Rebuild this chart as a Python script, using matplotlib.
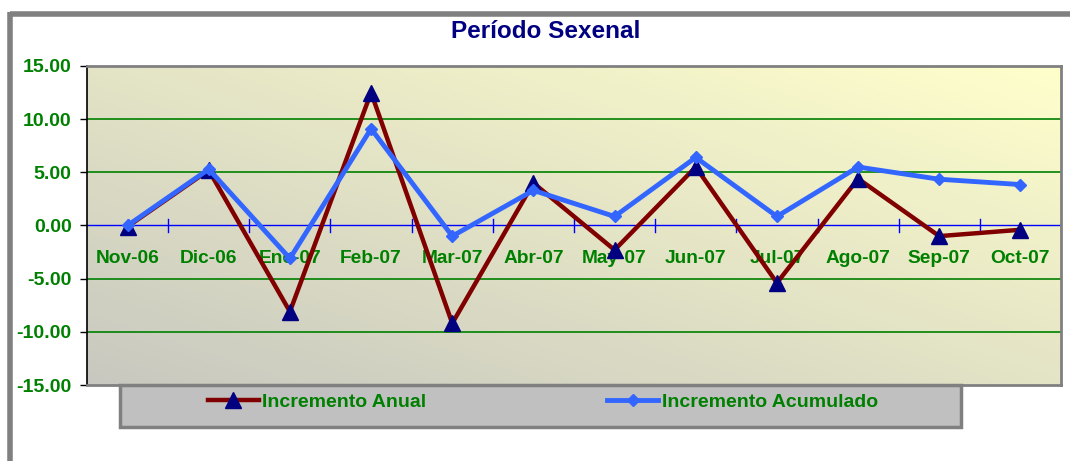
import numpy as np
import matplotlib.pyplot as plt
from matplotlib.patches import Rectangle
from matplotlib.lines import Line2D
from matplotlib.colors import LinearSegmentedColormap

plt.rcParams['font.family'] = ['Liberation Sans', 'DejaVu Sans']
plt.rcParams['font.weight'] = 'bold'

meses = ['Nov-06', 'Dic-06', 'Ene-07', 'Feb-07', 'Mar-07', 'Abr-07',
         'May-07', 'Jun-07', 'Jul-07', 'Ago-07', 'Sep-07', 'Oct-07']
anual = [-0.1, 5.2, -8.1, 12.5, -9.2, 4.0, -2.3, 5.5, -5.4, 4.4, -1.0, -0.4]
acumulado = [0.0, 5.3, -3.1, 9.1, -1.0, 3.3, 0.85, 6.4, 0.85, 5.5, 4.35, 3.85]
yticks = [15, 10, 5, 0, -5, -10, -15]

verde = '#008000'
fig = plt.figure(figsize=(10.7, 4.61), dpi=100)

# outer chart border (top and left visible)
fig.add_artist(Line2D([9.5 / 1070, 1.0], [1 - 14 / 461] * 2, color='#808080', lw=4,
                      transform=fig.transFigure, solid_capstyle='butt'))
fig.add_artist(Line2D([9.5 / 1070] * 2, [0, 1 - 12 / 461], color='#808080', lw=4,
                      transform=fig.transFigure, solid_capstyle='butt'))

ax = fig.add_axes([87 / 1070, 76 / 461, 974 / 1070, 319 / 461])
x = np.arange(len(meses))

# gradient background
cmap = LinearSegmentedColormap.from_list('bg', ['#C8C8C0', '#FFFFCC'])
gx, gy = np.meshgrid(np.linspace(0, 1, 200), np.linspace(0, 1, 100))
ax.imshow((gx + gy) / 2, cmap=cmap, extent=(-0.5, len(meses) - 0.5, -15, 15),
          aspect='auto', origin='lower', zorder=0)

ax.set_xlim(-0.5, len(meses) - 0.5)
ax.set_ylim(-15, 15)

for v in [-10, -5, 5, 10]:
    ax.axhline(v, color=verde, lw=1.2, zorder=1)
ax.axhline(0, color='#0000FF', lw=1, zorder=1)
for b in np.arange(0.5, len(meses) - 0.5 + 1, 1):
    ax.plot([b, b], [-0.6, 0.6], color='#0000FF', lw=1, zorder=1)

ax.plot(x, anual, color='#800000', lw=3.2, marker='^', markersize=11,
        markerfacecolor='#000080', markeredgecolor='#000080', zorder=3,
        label='Incremento Anual')
ax.plot(x, acumulado, color='#3366FF', lw=3.5, marker='D', markersize=6,
        markerfacecolor='#3366FF', markeredgecolor='#3366FF', zorder=4,
        label='Incremento Acumulado')

for i, m in enumerate(meses):
    ax.text(i, -3.1, m, ha='center', va='center', color=verde,
            fontsize=13.8, fontweight='bold', zorder=2)

ax.set_xticks([])
ax.set_yticks(yticks)
ax.set_yticklabels(['%.2f' % v for v in yticks], color=verde, fontsize=14,
                   fontweight='bold')
ax.tick_params(axis='y', direction='out', length=5, width=1, color='black', pad=6)

for s in ['top', 'right', 'bottom']:
    ax.spines[s].set_color('#808080')
    ax.spines[s].set_linewidth(2)
ax.spines['left'].set_color('black')
ax.spines['left'].set_linewidth(1.2)

fig.text(546 / 1070, 1 - 31 / 461, 'Período Sexenal', ha='center', va='center',
         color='#000080', fontsize=17.5, fontweight='bold')

# legend box
fig.add_artist(Rectangle((120 / 1070, 1 - 427 / 461), 841 / 1070, 42 / 461,
                         transform=fig.transFigure, facecolor='#C0C0C0',
                         edgecolor='#808080', lw=2.5, zorder=5))
leg = fig.legend(loc='center', bbox_to_anchor=(543 / 1070, 1 - 402 / 461), ncol=2,
                 frameon=False, fontsize=14, handlelength=2.6,
                 handletextpad=0.2, columnspacing=9.3)
leg.set_zorder(6)
for t in leg.get_texts():
    t.set_color(verde)
    t.set_fontweight('bold')

fig.savefig('out.png', dpi=100)
